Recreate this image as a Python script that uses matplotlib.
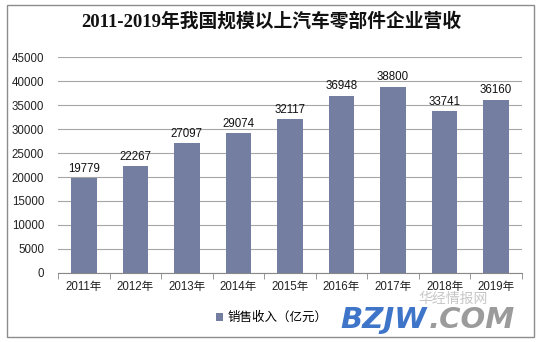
import matplotlib.pyplot as plt
from matplotlib.patches import Rectangle

years = ["2011年", "2012年", "2013年", "2014年", "2015年", "2016年", "2017年", "2018年", "2019年"]
revenue = [19779, 22267, 27097, 29074, 32117, 36948, 38800, 33741, 36160]
y_ticks = [0, 5000, 10000, 15000, 20000, 25000, 30000, 35000, 40000, 45000]

TEXT_FONT = ["Liberation Sans", "Noto Sans CJK SC"]
TITLE_FONT = ["Liberation Serif", "Noto Sans CJK SC"]
BAR_COLOR = "#737ea0"


def main():
    fig = plt.figure(figsize=(5.43, 3.42), dpi=100)
    ax = fig.add_axes([0.107, 0.202, 0.854, 0.631])

    x = range(len(years))
    bars = ax.bar(x, revenue, width=0.5, color=BAR_COLOR, zorder=3, label="销售收入（亿元）")

    for rect, val in zip(bars, revenue):
        ax.text(rect.get_x() + rect.get_width() / 2, val + 700, str(val),
                ha="center", va="bottom", fontsize=8.3, family=TEXT_FONT, color="#111111")

    ax.set_xlim(-0.5, len(years) - 0.5)
    ax.set_ylim(0, 45000)
    ax.set_yticks(y_ticks)
    ax.set_yticklabels([str(t) for t in y_ticks], family=TEXT_FONT, fontsize=8.3)
    ax.set_xticks(list(x))
    ax.set_xticklabels(years, family=TEXT_FONT, fontsize=8.3)
    ax.tick_params(axis="y", length=0, pad=10, colors="#222222")
    ax.tick_params(axis="x", length=0, pad=6, colors="#222222")

    # category separators on the baseline
    ax.set_xticks([i - 0.5 for i in range(len(years) + 1)], minor=True)
    ax.tick_params(axis="x", which="minor", length=4, direction="out", color="#888888")

    ax.grid(axis="y", color="#a6a6a6", linewidth=0.8, zorder=0)
    for side in ["top", "right", "left"]:
        ax.spines[side].set_visible(False)
    ax.spines["bottom"].set_color("#888888")
    ax.spines["bottom"].set_zorder(4)

    fig.text(0.5, 0.938, "2011-2019年我国规模以上汽车零部件企业营收", ha="center", va="center",
             fontsize=13.5, fontweight="bold", family=TITLE_FONT, color="#111111")

    fig.legend(handles=[bars], labels=["销售收入（亿元）"], loc="center",
               bbox_to_anchor=(0.5, 0.07), frameon=False, handlelength=0.6,
               handleheight=0.6, handletextpad=0.3, prop={"family": TEXT_FONT, "size": 9})

    # outer frame
    fig.patches.append(Rectangle((7 / 543, 5 / 342), 527 / 543, 332 / 342, transform=fig.transFigure,
                                 fill=False, edgecolor="#8c8c8c", linewidth=1.0))

    # site watermark
    fig.text(0.627, 0.065, "BZJW", ha="left", va="center", fontsize=21, fontweight="bold",
             style="italic", family="DejaVu Sans", color="#2a66c4", alpha=0.9)
    fig.text(0.79, 0.065, ".COM", ha="left", va="center", fontsize=21, fontweight="bold",
             style="italic", family="DejaVu Sans", color="#8a8a8a", alpha=0.85)
    fig.text(0.835, 0.125, "华经情报网", ha="center", va="center", fontsize=10,
             family="Noto Sans CJK SC", color="#b8b8b8", alpha=0.8)

    fig.savefig("out.png", dpi=100)


if __name__ == "__main__":
    main()
